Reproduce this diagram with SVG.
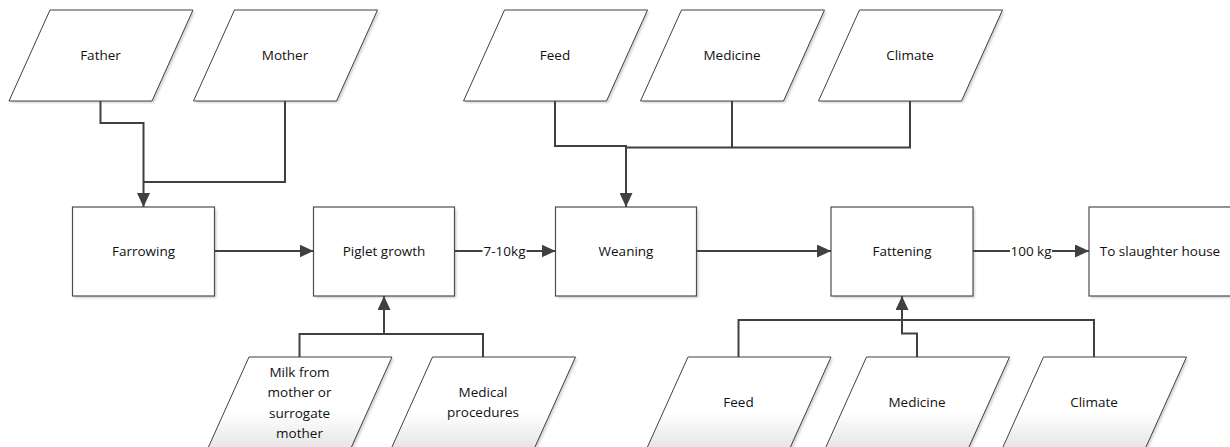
<svg xmlns="http://www.w3.org/2000/svg" width="1230" height="447" viewBox="0 0 1230 447">
  <defs>
    <style>
      .box { fill: #ffffff; stroke: #4d4d4d; stroke-width: 1.2; }
      .io { fill: #ffffff; stroke: #404040; stroke-width: 1; }
      .io-low { fill: url(#fadeLow); stroke: #404040; stroke-width: 1; }
      .shade { fill: #d4d4d4; filter: url(#soft); }
      .label { font-family: "Open Sans", "Liberation Sans", sans-serif; font-size: 13.5px; fill: #111111; text-anchor: middle; }
      .wire { fill: none; stroke: #404040; stroke-width: 2; stroke-linecap: butt; stroke-linejoin: miter; }
      .arrow { marker-end: url(#head); }
      .tag { fill: #ffffff; }
    </style>
    <filter id="soft" x="-10%" y="-10%" width="120%" height="120%">
      <feGaussianBlur stdDeviation="0.8"/>
    </filter>
    <linearGradient id="fadeLow" gradientUnits="userSpaceOnUse" x1="0" y1="412" x2="0" y2="447">
      <stop offset="0" stop-color="#ffffff"/>
      <stop offset="1" stop-color="#e6e6e6"/>
    </linearGradient>
    <marker id="head" viewBox="0 0 14 13" refX="14" refY="6.5" markerWidth="14" markerHeight="13" markerUnits="userSpaceOnUse" orient="auto">
      <path d="M0,0 L14,6.5 L0,13 Z" fill="#404040"/>
    </marker>
  </defs>

  <!-- upstream inputs -->
  <g id="father">
    <path class="shade" d="M52,12 H195 L154,103 H11 Z"/>
    <path class="io" d="M50,10 H193 L152,101 H9 Z"/>
    <text class="label" x="100.5" y="60">Father</text>
  </g>
  <g id="mother">
    <path class="shade" d="M236.5,12 H379.5 L338.5,103 H195.5 Z"/>
    <path class="io" d="M234.5,10 H377.5 L336.5,101 H193.5 Z"/>
    <text class="label" x="285" y="60">Mother</text>
  </g>
  <g id="feed-top">
    <path class="shade" d="M506.5,12 H649.5 L608.5,103 H465.5 Z"/>
    <path class="io" d="M504.5,10 H647.5 L606.5,101 H463.5 Z"/>
    <text class="label" x="555" y="60">Feed</text>
  </g>
  <g id="medicine-top">
    <path class="shade" d="M683.5,12 H826.5 L785.5,103 H642.5 Z"/>
    <path class="io" d="M681.5,10 H824.5 L783.5,101 H640.5 Z"/>
    <text class="label" x="732" y="60">Medicine</text>
  </g>
  <g id="climate-top">
    <path class="shade" d="M861.5,12 H1004.5 L963.5,103 H820.5 Z"/>
    <path class="io" d="M859.5,10 H1002.5 L961.5,101 H818.5 Z"/>
    <text class="label" x="910" y="60">Climate</text>
  </g>

  <!-- process stages -->
  <g id="farrowing">
    <rect class="shade" x="74.5" y="209" width="142" height="89"/>
    <rect class="box" x="72.5" y="207" width="142" height="89"/>
    <text class="label" x="143.5" y="256">Farrowing</text>
  </g>
  <g id="piglet-growth">
    <rect class="shade" x="315.5" y="209" width="141" height="89"/>
    <rect class="box" x="313.5" y="207" width="141" height="89"/>
    <text class="label" x="384" y="256">Piglet growth</text>
  </g>
  <g id="weaning">
    <rect class="shade" x="557.5" y="209" width="141" height="89"/>
    <rect class="box" x="555.5" y="207" width="141" height="89"/>
    <text class="label" x="626" y="256">Weaning</text>
  </g>
  <g id="fattening">
    <rect class="shade" x="833" y="209" width="142" height="89"/>
    <rect class="box" x="831" y="207" width="142" height="89"/>
    <text class="label" x="902" y="256">Fattening</text>
  </g>
  <g id="slaughter-house">
    <rect class="shade" x="1091" y="209" width="142" height="89"/>
    <rect class="box" x="1089" y="207" width="142" height="89"/>
    <text class="label" x="1160" y="256">To slaughter house</text>
  </g>

  <!-- downstream inputs -->
  <g id="milk">
    <path class="shade" d="M251,359 H394 L353,450 H210 Z"/>
    <path class="io-low" d="M249,357 H392 L351,448 H208 Z"/>
    <text class="label" x="299.5" y="377">Milk from</text>
    <text class="label" x="299.5" y="397">mother or</text>
    <text class="label" x="299.5" y="418">surrogate</text>
    <text class="label" x="299.5" y="438">mother</text>
  </g>
  <g id="medical-procedures">
    <path class="shade" d="M434.5,359 H577.5 L536.5,450 H393.5 Z"/>
    <path class="io-low" d="M432.5,357 H575.5 L534.5,448 H391.5 Z"/>
    <text class="label" x="483" y="397">Medical</text>
    <text class="label" x="483" y="417">procedures</text>
  </g>
  <g id="feed-bottom">
    <path class="shade" d="M690,359 H833 L792,450 H649 Z"/>
    <path class="io-low" d="M688,357 H831 L790,448 H647 Z"/>
    <text class="label" x="738.5" y="407">Feed</text>
  </g>
  <g id="medicine-bottom">
    <path class="shade" d="M868.5,359 H1011.5 L970.5,450 H827.5 Z"/>
    <path class="io-low" d="M866.5,357 H1009.5 L968.5,448 H825.5 Z"/>
    <text class="label" x="917" y="407">Medicine</text>
  </g>
  <g id="climate-bottom">
    <path class="shade" d="M1045.5,359 H1188.5 L1147.5,450 H1004.5 Z"/>
    <path class="io-low" d="M1043.5,357 H1186.5 L1145.5,448 H1002.5 Z"/>
    <text class="label" x="1094" y="407">Climate</text>
  </g>

  <!-- connectors -->
  <g id="connectors">
    <path class="wire arrow" d="M100.5,101 V123 H143.5 V207"/>
    <path class="wire" d="M285,101 V182 H143.5"/>

    <path class="wire arrow" d="M555,101 V146 H626 V207"/>
    <path class="wire" d="M732,101 V147.5 H626"/>
    <path class="wire" d="M910,101 V147.5 H732"/>

    <path class="wire arrow" d="M214.5,251 H313.5"/>
    <path class="wire arrow" d="M454.5,251 H555.5"/>
    <path class="wire arrow" d="M696.5,251 H831"/>
    <path class="wire arrow" d="M973,251 H1089"/>

    <path class="wire arrow" d="M299.5,357 V334 H384 V296"/>
    <path class="wire" d="M483,357 V334 H384"/>

    <path class="wire" d="M738.5,357 V320 H902"/>
    <path class="wire" d="M1094,357 V320 H902"/>
    <path class="wire arrow" d="M917,357 V333.5 H902 V296"/>

    <rect class="tag" x="482.5" y="242" width="44" height="18"/>
    <text class="label" x="504.5" y="256">7-10kg</text>
    <rect class="tag" x="1010" y="242" width="42" height="18"/>
    <text class="label" x="1031" y="256">100 kg</text>
  </g>
</svg>
